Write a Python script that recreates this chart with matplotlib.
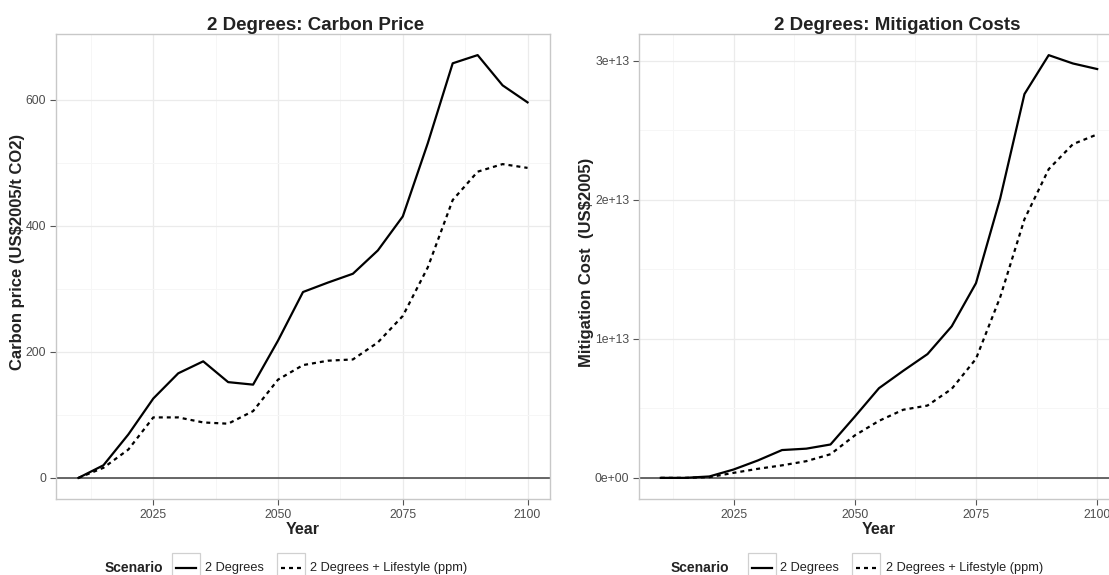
import numpy as np
import matplotlib
matplotlib.use("Agg")
import matplotlib.pyplot as plt
from matplotlib.lines import Line2D
from matplotlib.patches import Rectangle

plt.rcParams["font.family"] = ["Liberation Sans", "DejaVu Sans"]

# --- data
years = [2010, 2015, 2020, 2025, 2030, 2035, 2040, 2045, 2050, 2055,
         2060, 2065, 2070, 2075, 2080, 2085, 2090, 2095, 2100]

price_2deg = [0, 20, 69, 126, 166, 185, 152, 148, 218, 295,
              310, 324, 361, 415, 531, 658, 671, 623, 596]
price_life = [0, 16, 45, 96, 96, 88, 86, 106, 156, 179,
              186, 188, 215, 257, 334, 441, 486, 498, 492]

# mitigation cost in 1e13 US$2005
cost_2deg = [0, 0, 0.01, 0.06, 0.125, 0.20, 0.21, 0.24, 0.44, 0.645,
             0.77, 0.89, 1.09, 1.40, 2.01, 2.76, 3.04, 2.98, 2.94]
cost_life = [0, 0, 0.005, 0.036, 0.065, 0.09, 0.12, 0.17, 0.305, 0.41,
             0.49, 0.52, 0.64, 0.856, 1.30, 1.86, 2.22, 2.40, 2.47]

x_ticks = [2025, 2050, 2075, 2100]
x_minor = [2012.5, 2037.5, 2062.5, 2087.5]
price_ticks = [0, 200, 400, 600]
price_minor = [100, 300, 500]
cost_ticks = [0, 1e13, 2e13, 3e13]
cost_minor = [0.5e13, 1.5e13, 2.5e13]
cost_labels = ["0e+00", "1e+13", "2e+13", "3e+13"]
scenarios = ["2 Degrees", "2 Degrees + Lifestyle (ppm)"]

W, H = 1109, 575
fig = plt.figure(figsize=(W / 100, H / 100), dpi=100)
fig.patch.set_facecolor("white")


def fx(x):
    return x / W


def fy(y):
    return 1 - y / H


DASH = (0, (1.8, 1.8))


def style(ax, yt, ymin, ylabels=None):
    ax.set_xlim(2005.5, 2104.5)
    ax.set_xticks(x_ticks)
    ax.set_xticks(x_minor, minor=True)
    ax.set_yticks(yt)
    ax.set_yticks(ymin, minor=True)
    if ylabels is not None:
        ax.set_yticklabels(ylabels)
    ax.grid(which="major", color="#ebebeb", lw=0.9)
    ax.grid(which="minor", color="#f6f6f6", lw=0.7)
    ax.set_axisbelow(True)
    for s in ax.spines.values():
        s.set_color("#c8c8c8")
        s.set_linewidth(1.0)
    ax.tick_params(which="major", length=4, width=0.8, color="#555555",
                   labelcolor="#4d4d4d", labelsize=8.8, pad=3)
    ax.tick_params(which="minor", length=0)
    ax.axhline(0, color="#4d4d4d", lw=1.2, zorder=1)
    ax.set_xlabel("Year", fontsize=11.5, fontweight="bold", color="#222222", labelpad=1)


# --- left: carbon price
ax1 = fig.add_axes([fx(56), fy(499), fx(494), 465 / H])
ax1.plot(years, price_2deg, color="black", lw=1.6, label=scenarios[0], zorder=3)
ax1.plot(years, price_life, color="black", lw=1.6, ls=DASH, label=scenarios[1], zorder=3)
ax1.set_ylim(-33.5, 704.5)
style(ax1, price_ticks, price_minor)

# --- right: mitigation costs (panel runs off the right edge like the original)
ax2 = fig.add_axes([fx(639), fy(499), fx(480), 465 / H])
ax2.plot(years, np.array(cost_2deg) * 1e13, color="black", lw=1.6, zorder=3)
ax2.plot(years, np.array(cost_life) * 1e13, color="black", lw=1.6, ls=DASH, zorder=3)
ax2.set_ylim(-0.152e13, 3.192e13)
style(ax2, cost_ticks, cost_minor, cost_labels)
ax2.yaxis.get_offset_text().set_visible(False)

# titles and y labels
fig.text(fx(316), fy(30), "2 Degrees: Carbon Price", ha="center", va="baseline",
         fontsize=13.5, fontweight="bold", color="#222222")
fig.text(fx(897), fy(30), "2 Degrees: Mitigation Costs", ha="center", va="baseline",
         fontsize=13.5, fontweight="bold", color="#222222")
fig.text(fx(18), fy(252), "Carbon price (US$2005/t CO2)", rotation=90, ha="center",
         va="center", fontsize=12, fontweight="bold", color="#222222")
fig.text(fx(587), fy(262), "Mitigation Cost  (US$2005)", rotation=90, ha="center",
         va="center", fontsize=12, fontweight="bold", color="#222222")


# --- legends at the bottom (cut off like the reference)
def legend(x0, k1, t1, k2, t2):
    yc = 568
    fig.text(fx(x0), fy(yc), "Scenario", ha="left", va="center", fontsize=10,
             fontweight="bold", color="#222222")
    for kx, tx, lab, ls in [(k1, t1, scenarios[0], "-"), (k2, t2, scenarios[1], DASH)]:
        fig.add_artist(Rectangle((fx(kx), fy(580)), fx(28), 27 / H, transform=fig.transFigure,
                                 facecolor="white", edgecolor="#d0d0d0", lw=0.9))
        fig.add_artist(Line2D([fx(kx + 4), fx(kx + 24)], [fy(yc), fy(yc)],
                              transform=fig.transFigure, color="black", lw=1.6, ls=ls))
        fig.text(fx(tx), fy(yc), lab, ha="left", va="center", fontsize=9.2, color="#222222")


legend(105, 172, 205, 277, 310)
legend(671, 748, 780, 852, 886)

fig.savefig("out.png", dpi=100)
